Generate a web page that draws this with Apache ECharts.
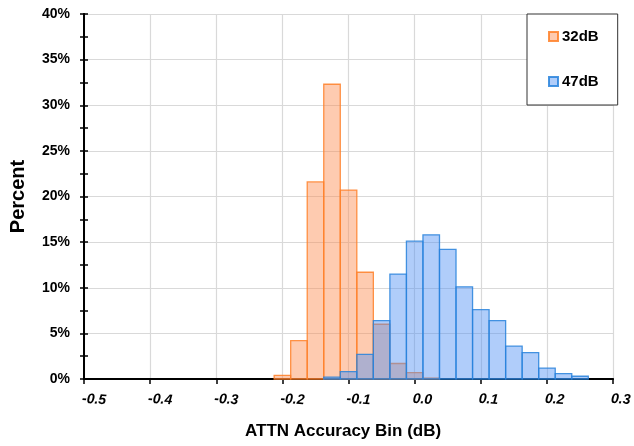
<!DOCTYPE html>
<html>
<head>
<meta charset="utf-8">
<script src="https://cdn.jsdelivr.net/npm/echarts@6/dist/echarts.min.js"></script>
<style>
html, body { margin: 0; padding: 0; background: #fff; }
#main { width: 634px; height: 446px; }
</style>
</head>
<body>
<div id="main"></div>
<script>
// bin centres (dB) and percent per bin
var binWidth = 0.025;
var bins32 = [-0.2, -0.175, -0.15, -0.125, -0.1, -0.075, -0.05, -0.025, 0, 0.025];
var pct32 = [0.4, 4.2, 21.6, 32.3, 20.7, 11.7, 6.0, 1.7, 0.7, 0.1];
var bins47 = [-0.125, -0.1, -0.075, -0.05, -0.025, 0, 0.025, 0.05, 0.075, 0.1, 0.125, 0.15, 0.175, 0.2, 0.225, 0.25];
var pct47 = [0.2, 0.8, 2.7, 6.4, 11.5, 15.1, 15.8, 14.2, 10.1, 7.6, 6.4, 3.6, 2.9, 1.2, 0.6, 0.3];
var seriesNames = ['32dB', '47dB'];

var font = '"Liberation Sans", Arial, sans-serif';

function pairs(xs, ys) {
    return xs.map(function (x, i) { return [x, ys[i]]; });
}

function histBar(params, api) {
    var x = api.value(0), y = api.value(1);
    var p0 = api.coord([x - binWidth / 2, y]);
    var p1 = api.coord([x + binWidth / 2, 0]);
    var st = api.style();
    return {
        type: 'rect',
        shape: { x: p0[0], y: p0[1], width: p1[0] - p0[0], height: p1[1] - p0[1] },
        style: { fill: st.fill, stroke: st.stroke, lineWidth: 1.3 }
    };
}

var yBase = {
    type: 'value', min: 0, max: 40, interval: 5,
    axisLine: { show: true, onZero: false, lineStyle: { color: '#000', width: 2 } }
};

option = {
    textStyle: { fontFamily: font },
    animation: false,
    grid: { left: 84, right: 20, top: 14, bottom: 67 },
    legend: {
        orient: 'vertical',
        left: 527, top: 14,
        padding: [15, 19, 16, 21],
        itemGap: 30,
        itemWidth: 9, itemHeight: 9,
        icon: 'rect',
        borderColor: '#333', borderWidth: 1,
        backgroundColor: '#fff',
        data: seriesNames,
        textStyle: { fontWeight: 'bold', fontSize: 15, color: '#000', fontFamily: font, padding: [0, 0, 0, -1] }
    },
    xAxis: {
        type: 'value', min: -0.5, max: 0.3, interval: 0.1,
        name: 'ATTN Accuracy Bin (dB)',
        nameLocation: 'middle', nameGap: 44,
        nameTextStyle: { fontWeight: 'bold', fontSize: 17, color: '#000', fontFamily: font, padding: [0, 11, 0, 0] },
        axisLine: { show: true, onZero: false, lineStyle: { color: '#000', width: 2 } },
        axisTick: { show: true, length: 5, lineStyle: { color: '#000', width: 1.5 } },
        axisLabel: {
            rotate: -4, margin: 20,
            fontWeight: 'bold', fontStyle: 'italic', fontSize: 14, color: '#000', fontFamily: font,
            padding: [0, 0, 0, -2],
            formatter: function (v) { return v.toFixed(1); }
        },
        splitLine: { show: true, lineStyle: { color: '#d9d9d9', width: 1.2 } }
    },
    yAxis: [
        Object.assign({}, yBase, {
            name: 'Percent',
            nameLocation: 'middle', nameGap: 56,
            nameTextStyle: { fontWeight: 'bold', fontSize: 20, color: '#000', fontFamily: font },
            axisTick: { show: true, length: 4, lineStyle: { color: '#000', width: 1.5 } },
            minorTick: { show: true, splitNumber: 2, length: 4, lineStyle: { color: '#000', width: 1.5 } },
            axisLabel: {
                margin: 14, fontWeight: 'bold', fontSize: 14, color: '#000', fontFamily: font,
                formatter: '{value}%'
            },
            splitLine: { show: true, lineStyle: { color: '#d9d9d9', width: 1.2 } }
        }),
        Object.assign({}, yBase, {
            position: 'left',
            axisTick: { show: true, inside: true, length: 4, lineStyle: { color: '#000', width: 1.5 } },
            minorTick: { show: true, splitNumber: 2, length: 4, lineStyle: { color: '#000', width: 1.5 } },
            axisLabel: { show: false },
            splitLine: { show: false }
        })
    ],
    series: [
        {
            name: seriesNames[0],
            type: 'custom',
            renderItem: histBar,
            data: pairs(bins32, pct32),
            itemStyle: { color: 'rgba(252,140,80,0.45)', borderColor: 'rgba(255,128,40,0.85)', borderWidth: 1.3 },
            z: 2
        },
        {
            name: seriesNames[1],
            type: 'custom',
            renderItem: histBar,
            data: pairs(bins47, pct47),
            itemStyle: { color: 'rgba(80,145,245,0.45)', borderColor: 'rgba(40,130,220,0.85)', borderWidth: 1.3 },
            z: 3
        }
    ]
};

var myChart = echarts.init(document.getElementById('main'));
myChart.setOption(option);
</script>
</body>
</html>
